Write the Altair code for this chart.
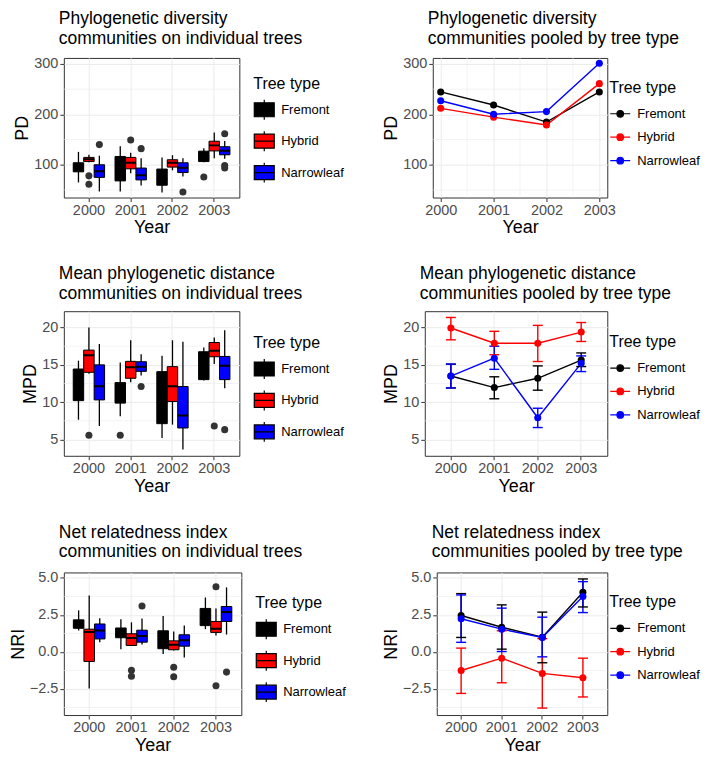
import altair as alt
import pandas as pd

YEARS = ["2000", "2001", "2002", "2003"]
YEARS_NUM = [2000, 2001, 2002, 2003]
TYPES = ["Fremont", "Hybrid", "Narrowleaf"]
COLORS = ["#000000", "#FF0000", "#0000FF"]

# ---- box statistics, order: 2000 F,H,N ; 2001 F,H,N ; 2002 ... ; 2003 ...
PD_LO = [65, 105, 47, 47, 83, 59, 45, 89, 76.5, 105, 113, 112]
PD_Q1 = [86, 106.4, 75, 68, 92, 70, 59.4, 95.4, 84.6, 106.4, 127.5, 119.8]
PD_MED = [96, 111, 87, 92, 104, 79, 72, 104, 94, 118, 138.5, 128]
PD_Q3 = [104, 114.6, 100, 116.5, 114.6, 93.5, 91.5, 110, 104, 127, 146.7, 135.8]
PD_HI = [125.6, 120, 118, 137, 124, 112.7, 114.6, 119, 112.7, 133, 164, 147]
PD_OUT_YEAR = ["2000", "2000", "2000", "2001", "2001", "2002", "2003", "2003", "2003", "2003"]
PD_OUT_TYPE = ["Hybrid", "Hybrid", "Narrowleaf", "Hybrid", "Narrowleaf", "Narrowleaf",
               "Fremont", "Narrowleaf", "Narrowleaf", "Narrowleaf"]
PD_OUT_VAL = [78, 61.5, 140, 149, 132, 46, 75.6, 161.5, 98.7, 93.5]

MPD_LO = [7.64, 13.8, 6.8, 8.09, 12.67, 13.56, 5.2, 6.98, 3.64, 12.9, 15.1, 11.87]
MPD_Q1 = [10.2, 14.0, 10.3, 9.87, 13.2, 14.13, 7.11, 10.09, 6.53, 13.02, 16.09, 13.02]
MPD_MED = [12.3, 16.3, 12.13, 11.0, 14.67, 14.76, 10.0, 12.13, 8.22, 16.0, 16.89, 14.89]
MPD_Q3 = [14.44, 16.98, 15.0, 12.62, 15.47, 15.42, 14.09, 14.76, 12.09, 16.76, 18.0, 16.13]
MPD_HI = [15.56, 20.0, 17.8, 15.33, 18.3, 16.44, 16.22, 18.3, 18.1, 17.33, 18.67, 19.64]
MPD_OUT_YEAR = ["2000", "2001", "2001", "2003", "2003"]
MPD_OUT_TYPE = ["Hybrid", "Fremont", "Narrowleaf", "Hybrid", "Narrowleaf"]
MPD_OUT_VAL = [5.56, 5.56, 12.09, 6.8, 6.31]

NRI_LO = [1.45, -2.46, 0.66, 0.18, 0.44, 0.5, -0.13, 0.1, -0.37, 1.54, 1.12, 1.18]
NRI_Q1 = [1.6, -0.64, 0.88, 0.96, 0.44, 0.66, 0.22, 0.15, 0.39, 1.78, 1.32, 2.06]
NRI_MED = [1.8, 1.34, 1.45, 1.2, 0.94, 1.07, 0.8, 0.48, 0.79, 2.3, 1.56, 2.7]
NRI_Q3 = [2.17, 1.54, 1.89, 1.62, 1.23, 1.47, 1.43, 0.75, 1.16, 2.94, 2.06, 3.07]
NRI_HI = [2.81, 3.82, 2.28, 2.21, 2.0, 2.26, 2.43, 1.38, 1.78, 3.68, 2.94, 4.36]
NRI_OUT_YEAR = ["2001", "2001", "2001", "2002", "2002", "2003", "2003", "2003"]
NRI_OUT_TYPE = ["Hybrid", "Hybrid", "Narrowleaf", "Hybrid", "Hybrid", "Hybrid", "Hybrid", "Narrowleaf"]
NRI_OUT_VAL = [-1.23, -1.64, 3.11, -1.03, -1.67, 4.41, -2.28, -1.36]

# ---- pooled values (per type, over YEARS)
PD_POOL = {
    "Fremont": [244.6, 218.6, 184.7, 244.6],
    "Hybrid": [212, 194.5, 178.8, 261],
    "Narrowleaf": [227, 200.3, 205.5, 301.3],
}
MPD_POOL = {
    "Fremont": [13.5, 11.95, 13.2, 15.64],
    "Hybrid": [19.95, 17.9, 17.9, 19.4],
    "Narrowleaf": [13.5, 15.9, 7.9, 15.2],
}
MPD_POOL_LO = {
    "Fremont": [11.9, 10.45, 11.6, 14.77],
    "Hybrid": [18.36, 16.36, 15.45, 18.14],
    "Narrowleaf": [11.9, 14.4, 6.59, 14.1],
}
MPD_POOL_HI = {
    "Fremont": [15.1, 13.4, 14.86, 16.6],
    "Hybrid": [21.36, 19.5, 20.3, 20.68],
    "Narrowleaf": [15.1, 17.5, 9.18, 16.2],
}
NRI_POOL = {
    "Fremont": [2.46, 1.67, 1.0, 4.03],
    "Hybrid": [-1.25, -0.42, -1.45, -1.74],
    "Narrowleaf": [2.24, 1.54, 0.98, 3.74],
}
NRI_POOL_LO = {
    "Fremont": [0.98, 0.19, -0.73, 3.04],
    "Hybrid": [-2.8, -2.08, -3.79, -3.04],
    "Narrowleaf": [0.65, 0.03, -0.33, 2.66],
}
NRI_POOL_HI = {
    "Fremont": [3.94, 3.18, 2.69, 4.93],
    "Hybrid": [0.26, 1.43, 0.9, -0.42],
    "Narrowleaf": [3.85, 2.96, 2.35, 4.75],
}

PD_TICKS = [100, 200, 300]
PD_MINOR = [50, 150, 250]
MPD_TICKS = [5, 10, 15, 20]
MPD_MINOR = [7.5, 12.5, 17.5]
NRI_TICKS = [-2.5, 0, 2.5, 5]
NRI_MINOR = [-3.75, -1.25, 1.25, 3.75]
YEAR_MINOR = [2000.5, 2001.5, 2002.5]

PD_DOMAIN = [35, 312]
MPD_DOMAIN = [2.8, 22.2]
NRI_DOMAIN = [-4.26, 5.37]

FONT = "Liberation Sans"
GRID = "#EBEBEB"

BOX_PATH = "M-1,-0.7H1V0.7H-1Z M0,-0.7V-1 M0,0.7V1 M-1,0H1"
LINE_PATH = "M-1,0H1 M0.33,0A0.33,0.33,0,1,1,-0.33,0A0.33,0.33,0,1,1,0.33,0Z"


def box_df(lo, q1, med, q3, hi):
    rows = []
    i = 0
    for y in YEARS:
        for t in TYPES:
            rows.append(dict(year=y, type=t, lo=lo[i], q1=q1[i], med=med[i], q3=q3[i], hi=hi[i]))
            i += 1
    return pd.DataFrame(rows)


def pool_df(vals, lo=None, hi=None):
    rows = []
    for t in TYPES:
        for j, y in enumerate(YEARS):
            r = dict(year=y, yr=YEARS_NUM[j], type=t, v=vals[t][j])
            if lo is not None:
                r["lo"] = lo[t][j]
                r["hi"] = hi[t][j]
            rows.append(r)
    return pd.DataFrame(rows)


def make_title(l1, l2):
    return alt.Title([l1, l2], anchor="start", frame="group", dx=-5, fontSize=17.5,
                     fontWeight="normal", lineHeight=19.5, offset=9, font=FONT, color="black")


def legend(path, lx, ly, stroke=None):
    kw = dict(title="Tree type", orient="none", legendX=lx, legendY=ly, symbolType=path,
              symbolSize=400, symbolStrokeWidth=1.2, symbolOpacity=1,
              titleFontSize=16, labelFontSize=13, titleFontWeight="normal", titleColor="black",
              labelColor="black", rowPadding=5.5, titlePadding=7, labelOffset=6,
              titleFont=FONT, labelFont=FONT)
    if stroke:
        kw["symbolStrokeColor"] = stroke
    return alt.Legend(**kw)


def y_axis(title, ticks, fmt):
    return alt.Axis(title=title, values=ticks, format=fmt, grid=True)


def band_x():
    return alt.X("year:N", scale=alt.Scale(domain=YEARS, paddingInner=0, paddingOuter=0.1),
                 axis=alt.Axis(title="Year", labelAngle=0, bandPosition=0.5, grid=True))


def box_panel(df, odf, ytitle, domain, ticks, minor, fmt, title, w, h, lx, ly):
    yscale = alt.Scale(domain=domain, nice=False, zero=False)
    yax = y_axis(ytitle, ticks, fmt)
    cscale = alt.Scale(domain=TYPES, range=COLORS)
    leg = legend(BOX_PATH, lx, ly, stroke="black")
    xo = alt.XOffset("type:N", scale=alt.Scale(domain=TYPES, paddingInner=0, paddingOuter=0.5))
    minor_l = alt.Chart(pd.DataFrame({"m": minor})).mark_rule(color=GRID, strokeWidth=0.6).encode(
        y=alt.Y("m:Q", scale=yscale, axis=yax))
    base = alt.Chart(df)
    whisk = base.mark_rule(color="black", strokeWidth=1.3).encode(
        x=band_x(), xOffset=xo, y=alt.Y("lo:Q", scale=yscale, axis=yax), y2="hi:Q")
    box = base.mark_bar(stroke="black", strokeWidth=1, opacity=1).encode(
        x=band_x(), xOffset=xo, y=alt.Y("q1:Q", scale=yscale, axis=yax), y2="q3:Q",
        color=alt.Color("type:N", scale=cscale, legend=leg))
    med = base.mark_bar(stroke="black", strokeWidth=2, fillOpacity=0).encode(
        x=band_x(), xOffset=xo, y=alt.Y("med:Q", scale=yscale, axis=yax), y2="med:Q")
    outl = alt.Chart(odf).mark_circle(size=50, color="#333333", opacity=1).encode(
        x=band_x(), xOffset=xo, y=alt.Y("val:Q", scale=yscale, axis=yax))
    return alt.layer(minor_l, whisk, box, med, outl).properties(
        width=w, height=h, title=title)


def line_panel(df, ytitle, domain, ticks, minor, fmt, title, w, h, lx, ly, continuous=False, err=False):
    yscale = alt.Scale(domain=domain, nice=False, zero=False)
    yax = y_axis(ytitle, ticks, fmt)
    cscale = alt.Scale(domain=TYPES, range=COLORS)
    leg = legend(LINE_PATH, lx, ly)
    col = alt.Color("type:N", scale=cscale, legend=leg)
    if continuous:
        xe = alt.X("yr:Q", scale=alt.Scale(domain=[1999.85, 2003.15], nice=False, zero=False),
                   axis=alt.Axis(title="Year", values=YEARS_NUM, format="d", grid=True))
    else:
        xe = band_x()
    layers = [alt.Chart(pd.DataFrame({"m": minor})).mark_rule(color=GRID, strokeWidth=0.6).encode(
        y=alt.Y("m:Q", scale=yscale, axis=yax))]
    if continuous:
        layers.append(alt.Chart(pd.DataFrame({"mx": YEAR_MINOR})).mark_rule(color=GRID, strokeWidth=0.6).encode(
            x=alt.X("mx:Q", scale=alt.Scale(domain=[1999.85, 2003.15], nice=False, zero=False),
                    axis=alt.Axis(title="Year", values=YEARS_NUM, format="d", grid=True))))
    base = alt.Chart(df)
    layers.append(base.mark_line(strokeWidth=1.4).encode(
        x=xe, y=alt.Y("v:Q", scale=yscale, axis=yax), color=col, detail="type:N"))
    if err:
        layers.append(base.mark_rule(strokeWidth=1.4).encode(
            x=xe, y=alt.Y("lo:Q", scale=yscale, axis=yax), y2="hi:Q", color=col))
        layers.append(base.mark_tick(size=10, thickness=1.4, opacity=1).encode(
            x=xe, y=alt.Y("lo:Q", scale=yscale, axis=yax), color=col))
        layers.append(base.mark_tick(size=10, thickness=1.4, opacity=1).encode(
            x=xe, y=alt.Y("hi:Q", scale=yscale, axis=yax), color=col))
    layers.append(base.mark_circle(size=50, opacity=1).encode(
        x=xe, y=alt.Y("v:Q", scale=yscale, axis=yax), color=col))
    return alt.layer(*layers).properties(width=w, height=h, title=title)


def out_df(ys, ts, vs):
    return pd.DataFrame({"year": ys, "type": ts, "val": vs})


tl = box_panel(box_df(PD_LO, PD_Q1, PD_MED, PD_Q3, PD_HI),
               out_df(PD_OUT_YEAR, PD_OUT_TYPE, PD_OUT_VAL),
               "PD", PD_DOMAIN, PD_TICKS, PD_MINOR, "d",
               make_title("Phylogenetic diversity", "communities on individual trees"),
               176, 140, 190, 18)
tr = line_panel(pool_df(PD_POOL), "PD", PD_DOMAIN, PD_TICKS, PD_MINOR, "d",
                make_title("Phylogenetic diversity", "communities pooled by tree type"),
                175, 140, 177, 22, continuous=True)
ml = box_panel(box_df(MPD_LO, MPD_Q1, MPD_MED, MPD_Q3, MPD_HI),
               out_df(MPD_OUT_YEAR, MPD_OUT_TYPE, MPD_OUT_VAL),
               "MPD", MPD_DOMAIN, MPD_TICKS, MPD_MINOR, "d",
               make_title("Mean phylogenetic distance", "communities on individual trees"),
               176, 145, 190, 24)
mr = line_panel(pool_df(MPD_POOL, MPD_POOL_LO, MPD_POOL_HI), "MPD", MPD_DOMAIN, MPD_TICKS, MPD_MINOR, "d",
                make_title("Mean phylogenetic distance", "communities pooled by tree type"),
                183, 145, 185, 23, err=True)
bl = box_panel(box_df(NRI_LO, NRI_Q1, NRI_MED, NRI_Q3, NRI_HI),
               out_df(NRI_OUT_YEAR, NRI_OUT_TYPE, NRI_OUT_VAL),
               "NRI", NRI_DOMAIN, NRI_TICKS, NRI_MINOR, ".1f",
               make_title("Net relatedness index", "communities on individual trees"),
               178, 143, 192, 23)
br = line_panel(pool_df(NRI_POOL, NRI_POOL_LO, NRI_POOL_HI), "NRI", NRI_DOMAIN, NRI_TICKS, NRI_MINOR, ".1f",
                make_title("Net relatedness index", "communities pooled by tree type"),
                171, 143, 173, 22, err=True)


def row(a, b, sp):
    return alt.hconcat(a, b, spacing=sp).resolve_scale(
        color="independent", x="independent", y="independent", xOffset="independent"
    ).resolve_legend(color="independent")


chart = alt.concat(row(tl, tr, 37), row(ml, mr, 37), row(bl, br, 34), columns=1,
                   spacing={"row": 27, "column": 0}).resolve_scale(
    color="independent", x="independent", y="independent", xOffset="independent"
).resolve_legend(color="independent").properties(
    padding={"left": 0, "top": 0, "right": 0, "bottom": 0}, align="none", bounds="full"
).configure_view(stroke="#333333", strokeWidth=1).configure_axis(
    domain=False, tickColor="#333333", tickSize=4, tickWidth=1, labelColor="#4D4D4D",
    labelFontSize=14.5, labelFont=FONT, titleFont=FONT, titleFontSize=18, titleFontWeight="normal",
    titleColor="black", gridColor=GRID, gridWidth=1, labelPadding=2, titlePadding=2
)

chart.save("out.html", embed_options={"renderer": "svg", "actions": False})
